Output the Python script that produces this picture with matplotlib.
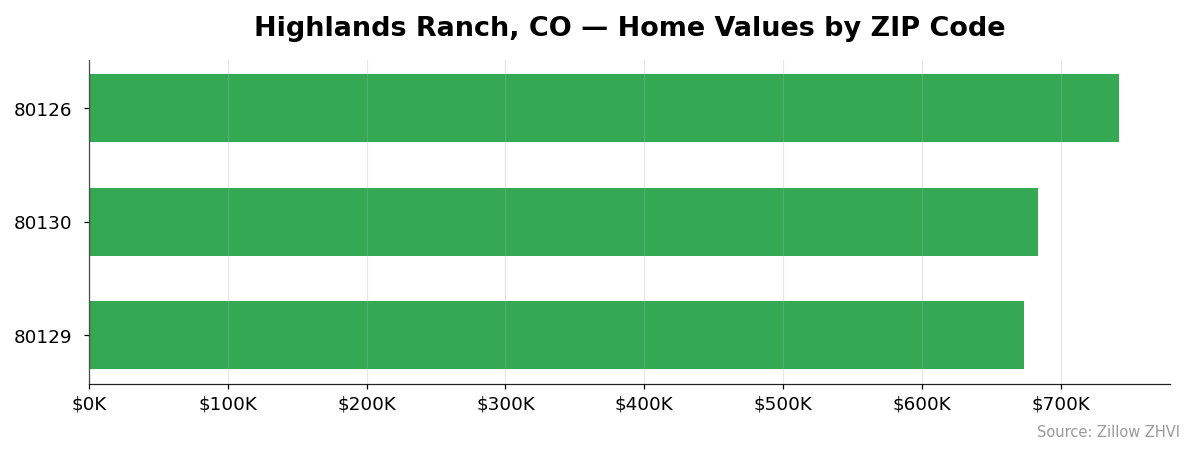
import matplotlib
matplotlib.use("Agg")
import matplotlib.pyplot as plt
from matplotlib.ticker import FuncFormatter

zips = ["80126", "80130", "80129"]
values = [742000, 683500, 673500]

DPI = 110
fig = plt.figure(figsize=(1195.4 / DPI, 455.4 / DPI), dpi=DPI)
ax = fig.add_axes([89/1195, 1-384/455, (1170-89)/1195, (384-60)/455])

y = list(range(len(zips)))
ax.barh(y, values, height=0.6, color="#34a853", zorder=2)
ax.set_yticks(y)
ax.set_yticklabels(zips, fontsize=12)
ax.invert_yaxis()
ax.set_xlim(0, max(values) * 1.05)
ax.xaxis.set_major_formatter(FuncFormatter(lambda v, p: f"${v/1000:.0f}K"))
ax.tick_params(axis="x", labelsize=12)
ax.tick_params(axis="y", pad=7.5)
ax.grid(axis="x", color="#b0b0b0", alpha=0.3, linewidth=0.8, zorder=3)
ax.set_axisbelow(False)
for s in ["top", "right"]:
    ax.spines[s].set_visible(False)
for s in ["left", "bottom"]:
    ax.spines[s].set_color("#222222")

ax.set_title("Highlands Ranch, CO — Home Values by ZIP Code", fontsize=17.7, fontweight="bold", pad=16)
fig.text(1180/1195, 1-432/455, "Source: Zillow ZHVI", ha="right", va="center", fontsize=9.6, color="#999999")

fig.savefig("out.png", dpi=DPI)
